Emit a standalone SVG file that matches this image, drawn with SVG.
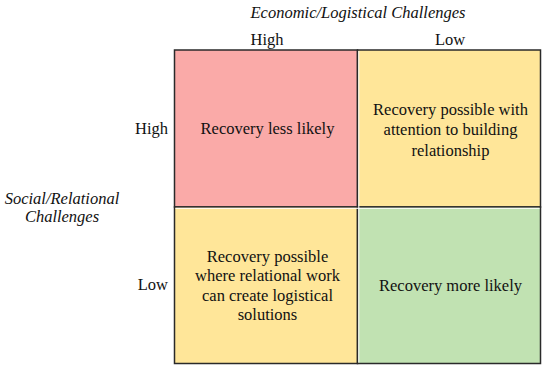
<svg xmlns="http://www.w3.org/2000/svg" width="550" height="371" viewBox="0 0 550 371">
  <style>
    text { font-family: 'Liberation Serif', serif; font-size: 16.5px; fill: #111; }
    .it { font-style: italic; }
    .c { text-anchor: middle; }
    .r { text-anchor: end; }
    .cell { stroke: #2a2a2a; stroke-width: 1.5; }
    .gap { stroke: #ffffff; stroke-width: 1; }
  </style>
  <rect width="550" height="371" fill="#ffffff"/>
  <g id="axis-labels" font-family="Liberation Serif, serif">
    <text class="it c" x="358" y="17.5">Economic/Logistical Challenges</text>
    <text class="c" x="267" y="45">High</text>
    <text class="c" x="450" y="45">Low</text>
    <text class="r" x="168" y="133.5">High</text>
    <text class="r" x="168" y="290">Low</text>
    <text class="it c" x="62" y="203.5">Social/Relational</text>
    <text class="it c" x="62" y="222">Challenges</text>
  </g>
  <g id="cell-high-high">
    <rect class="cell" x="174.5" y="50" width="183" height="157" fill="#FAAAA8"/>
    <text class="c" x="267.5" y="134">Recovery less likely</text>
  </g>
  <g id="cell-high-low">
    <rect class="cell" x="357.5" y="50" width="183" height="157" fill="#FFE699"/>
    <text class="c" x="450.5" y="114.5">Recovery possible with</text>
    <text class="c" x="450.5" y="135">attention to building</text>
    <text class="c" x="450.5" y="155.5">relationship</text>
  </g>
  <g id="cell-low-high">
    <rect class="cell" x="174.5" y="207" width="183" height="156.5" fill="#FFE699"/>
    <text class="c" x="267.5" y="261.5">Recovery possible</text>
    <text class="c" x="267.5" y="281">where relational work</text>
    <text class="c" x="267.5" y="300.5">can create logistical</text>
    <text class="c" x="267.5" y="320">solutions</text>
  </g>
  <g id="cell-low-low">
    <rect class="cell" x="357.5" y="207" width="183" height="156.5" fill="#C1E2B2"/>
    <text class="c" x="450.5" y="291">Recovery more likely</text>
  </g>
  <g id="connectors">
    <line class="gap" x1="358.8" y1="51" x2="358.8" y2="362.5"/>
    <line class="gap" x1="175.5" y1="208.3" x2="539.5" y2="208.3"/>
  </g>
</svg>
